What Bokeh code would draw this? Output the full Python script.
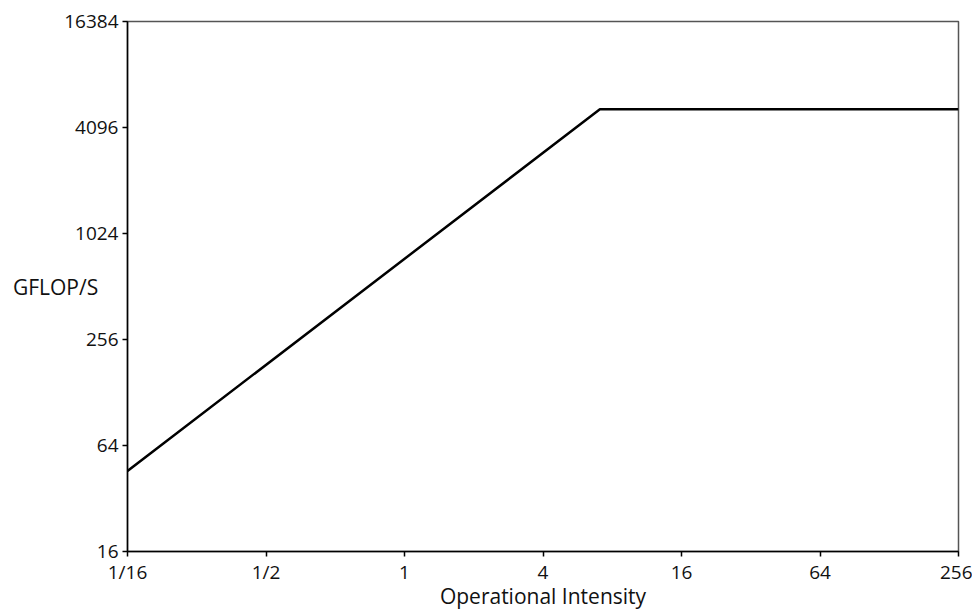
from bokeh.plotting import figure
from bokeh.embed import file_html
from bokeh.resources import INLINE
from bokeh.models import FixedTicker

# Roofline data
x_points = [1/16, 7.07, 256]
y_points = [45.9, 5200, 5200]

x_ticks = [1/16, 1/4, 1, 4, 16, 64, 256]
x_tick_labels = ["1/16", "1/2", "1", "4", "16", "64", "256"]
y_ticks = [16, 64, 256, 1024, 4096, 16384]
y_tick_labels = ["16", "64", "256", "1024", "4096", "16384"]

FONT = "Open Sans"

p = figure(width=972, height=612, x_axis_type="log", y_axis_type="log",
           x_range=(1/16, 256), y_range=(16, 16384),
           output_backend="svg", toolbar_location=None,
           min_border_left=127, min_border_right=14,
           min_border_top=21, min_border_bottom=61)

p.line(x_points, y_points, line_color="black", line_width=2.5)

p.xgrid.visible = False
p.ygrid.visible = False
p.outline_line_color = "#555555"
p.outline_line_width = 1.5

p.xaxis.ticker = FixedTicker(ticks=x_ticks)
p.yaxis.ticker = FixedTicker(ticks=y_ticks)
p.xaxis.major_label_overrides = {t: l for t, l in zip(x_ticks, x_tick_labels)}
p.yaxis.major_label_overrides = {t: l for t, l in zip(y_ticks, y_tick_labels)}

for ax in (p.xaxis, p.yaxis):
    ax.axis_line_color = "black"
    ax.axis_line_width = 1.5
    ax.major_tick_line_color = "black"
    ax.major_tick_line_width = 1.5
    ax.major_tick_out = 5
    ax.major_tick_in = 0
    ax.minor_tick_out = 0
    ax.minor_tick_in = 0
    ax.major_label_text_font = FONT
    ax.major_label_text_font_size = "19px"
    ax.major_label_text_color = "#111111"
    ax.axis_label_text_font = FONT
    ax.axis_label_text_font_size = "21px"
    ax.axis_label_text_font_style = "normal"
    ax.axis_label_text_color = "#111111"

p.xaxis.axis_label = "Operational Intensity"
p.xaxis.axis_label_standoff = -6
p.xaxis.major_label_standoff = 2
p.yaxis.axis_label = "GFLOP/S"
p.yaxis.axis_label_orientation = "horizontal"
p.yaxis.axis_label_standoff = -37
p.yaxis.major_label_standoff = 4

open("out.html", "w").write(file_html(p, INLINE))
